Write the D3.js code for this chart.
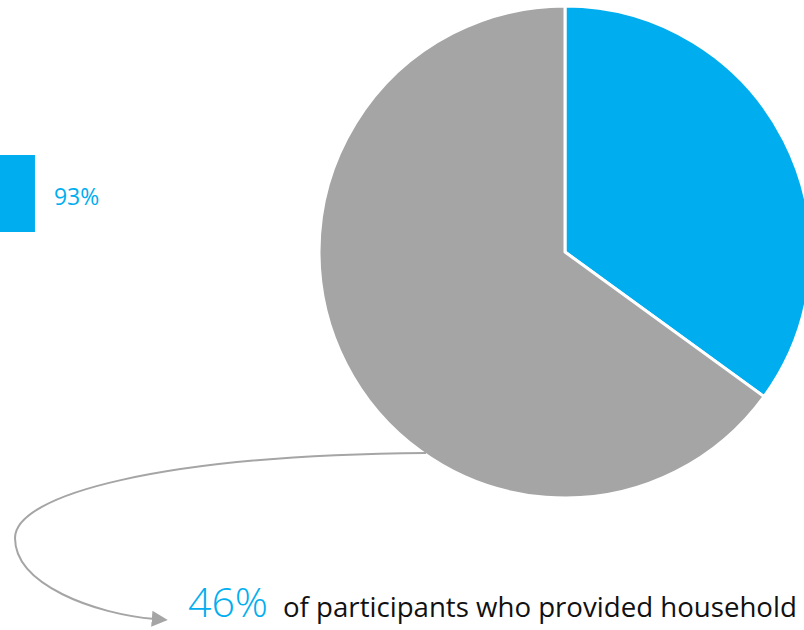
<!DOCTYPE html>
<html>
<head>
<meta charset="utf-8">
<script src="https://cdn.jsdelivr.net/npm/d3@7/dist/d3.min.js"></script>
<style>
  html, body { margin: 0; padding: 0; background: #ffffff; }
  svg { display: block; font-family: "Open Sans", "Noto Sans", sans-serif; }
</style>
</head>
<body>
<svg id="chart" width="804" height="630"></svg>
<script>
// Pie: share of participants
const sliceLabels = ["Provided", "Did not provide"];
const sliceValues = [35, 65];
const sliceColors = ["#00aeef", "#a5a5a5"];

// Partial bar shown at left
const barCategories = ["Participants"];
const barValues = [93];

// Callout
const calloutValue = "46%";
const calloutText = "of participants who provided household";

const svg = d3.select("#chart");

// ---- bar ----
const xBar = d3.scaleLinear().domain([0, 100]).range([-400, 67.7]);
const yBar = d3.scaleBand().domain(barCategories).range([155, 232]).padding(0);

svg.selectAll("rect.bar")
  .data(barValues)
  .join("rect")
  .attr("class", "bar")
  .attr("x", xBar(0))
  .attr("y", (d, i) => yBar(barCategories[i]))
  .attr("width", d => xBar(d) - xBar(0))
  .attr("height", yBar.bandwidth())
  .attr("fill", "#00aeef");

svg.selectAll("text.barLabel")
  .data(barValues)
  .join("text")
  .attr("class", "barLabel")
  .attr("x", d => xBar(d) + 19)
  .attr("y", (d, i) => yBar(barCategories[i]) + yBar.bandwidth() / 2 + 3)
  .attr("dy", "0.35em")
  .attr("fill", "#00aeef")
  .attr("font-size", 23)
  .text(d => d + "%");

// ---- pie ----
const cx = 565, cy = 252, radius = 246;
const pie = d3.pie().sort(null).value(d => d);
const arc = d3.arc().innerRadius(0).outerRadius(radius);

const gPie = svg.append("g").attr("transform", `translate(${cx},${cy})`);
gPie.selectAll("path")
  .data(pie(sliceValues))
  .join("path")
  .attr("d", arc)
  .attr("fill", (d, i) => sliceColors[i])
  .attr("stroke", "#ffffff")
  .attr("stroke-width", 3)
  .attr("stroke-linejoin", "round");

// ---- connector arrow ----
const defs = svg.append("defs");
defs.append("marker")
  .attr("id", "arrowHead")
  .attr("viewBox", "0 0 10 10")
  .attr("refX", 2)
  .attr("refY", 5)
  .attr("markerWidth", 8)
  .attr("markerHeight", 8)
  .attr("markerUnits", "strokeWidth")
  .attr("orient", "auto")
  .append("path")
  .attr("d", "M0,0 L10,5 L0,10 Z")
  .attr("fill", "#a5a5a5");

const curve = d3.path();
curve.moveTo(426, 453);
curve.bezierCurveTo(160, 455, 15, 495, 15, 538);
curve.bezierCurveTo(15, 585, 95, 614, 155, 619);

svg.append("path")
  .attr("d", curve.toString())
  .attr("fill", "none")
  .attr("stroke", "#a5a5a5")
  .attr("stroke-width", 2)
  .attr("marker-end", "url(#arrowHead)");

// ---- callout text ----
const big = svg.append("text")
  .attr("x", 188)
  .attr("y", 617)
  .attr("fill", "#00aeef")
  .attr("font-size", 41)
  .attr("font-weight", 300)
  .text(calloutValue);

const small = svg.append("text")
  .attr("x", 283)
  .attr("y", 617)
  .attr("fill", "#111111")
  .attr("font-size", 26)
  .text(calloutText);

// keep the sentence within its line width
const target = 514;
const w = small.node().getComputedTextLength();
if (w > 0) small.attr("font-size", 26 * target / w);
const wb = big.node().getComputedTextLength();
if (wb > 0) big.attr("font-size", Math.min(44, 41 * 80 / wb));
</script>
</body>
</html>
